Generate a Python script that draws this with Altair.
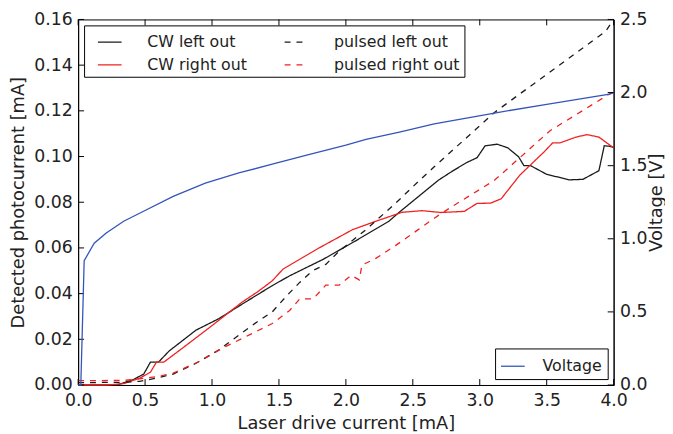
import altair as alt
import pandas as pd

# ---- data ----
cw_left_x = [0, 0.29, 0.41, 0.49, 0.54, 0.60, 0.68, 0.88, 1.05, 1.25, 1.45, 1.58, 1.83, 2.07, 2.32, 2.39,
             2.69, 2.79, 2.90, 2.98, 3.04, 3.13, 3.21, 3.29, 3.33, 3.38, 3.50, 3.67, 3.77, 3.89, 3.93, 3.97, 4.0]
cw_left_y = [0, 0, 0.0023, 0.0048, 0.0100, 0.0100, 0.0149, 0.024, 0.029, 0.0363, 0.0435, 0.0478, 0.055,
             0.063, 0.0716, 0.0752, 0.0896, 0.0934, 0.0973, 0.0995, 0.1047, 0.1054, 0.1038, 0.0999, 0.0960,
             0.0960, 0.0922, 0.0898, 0.0900, 0.0938, 0.1047, 0.1045, 0.1040]

cw_right_x = [0, 0.22, 0.34, 0.46, 0.54, 0.585, 0.64, 0.81, 1.0, 1.225, 1.336, 1.45, 1.53, 1.80, 2.05, 2.22,
              2.42, 2.57, 2.71, 2.885, 2.98, 3.08, 3.16, 3.30, 3.48, 3.545, 3.60, 3.72, 3.80, 3.89, 3.99, 4.0]
cw_right_y = [0, 0, 0.0006, 0.003, 0.0056, 0.010, 0.010, 0.0175, 0.026, 0.0363, 0.0406, 0.0456, 0.0507,
              0.060, 0.068, 0.0716, 0.0756, 0.0763, 0.0755, 0.0760, 0.0795, 0.0796, 0.0815, 0.0919, 0.102,
              0.106, 0.106, 0.1085, 0.1096, 0.1085, 0.1042, 0.104]

pulsed_left_x = [0, 0.34, 0.46, 0.585, 0.71, 0.88, 1.05, 1.25, 1.336, 1.45, 1.557, 1.655, 1.75, 1.85, 1.95,
                 2.15, 2.37, 2.54, 2.66, 3.11, 3.94, 4.0]
pulsed_left_y = [0.001, 0.0012, 0.0016, 0.003, 0.0048, 0.0095, 0.0153, 0.024, 0.0276, 0.032, 0.039, 0.0449,
                 0.050, 0.0528, 0.0586, 0.068, 0.0795, 0.089, 0.0955, 0.1193, 0.1548, 0.16]

pulsed_right_x = [0, 0.34, 0.46, 0.585, 0.71, 0.905, 1.10, 1.275, 1.45, 1.58, 1.655, 1.755, 1.85, 1.95, 2.04,
                  2.10, 2.12, 2.22, 2.37, 2.54, 2.66, 2.79, 3.11, 3.525, 3.97, 4.0]
pulsed_right_y = [0.0019, 0.002, 0.0027, 0.0036, 0.0052, 0.0103, 0.0168, 0.0218, 0.0269, 0.0326, 0.0377,
                  0.0377, 0.0437, 0.0437, 0.048, 0.046, 0.0525, 0.0553, 0.061, 0.068, 0.073, 0.078,
                  0.0896, 0.1113, 0.1274, 0.128]

volt_x = [0, 0.02, 0.045, 0.12, 0.21, 0.34, 0.47, 0.71, 0.95, 1.2, 1.45, 1.7, 2.0, 2.15, 2.4, 2.66, 3.11,
          3.5, 3.97, 4.0]
volt_y = [0, 0, 0.85, 0.97, 1.04, 1.12, 1.18, 1.29, 1.38, 1.45, 1.51, 1.57, 1.64, 1.68, 1.73, 1.786, 1.86,
          1.92, 1.99, 2.0]

series_order = ["CW left out", "CW right out", "pulsed left out", "pulsed right out"]
series_colors = ["#1a1a1a", "#ee2222", "#1a1a1a", "#ee2222"]
series_dashes = [[1, 0], [1, 0], [6, 6], [6, 6]]

x_ticks = [0, 0.5, 1.0, 1.5, 2.0, 2.5, 3.0, 3.5, 4.0]
ma_ticks = [0, 0.02, 0.04, 0.06, 0.08, 0.10, 0.12, 0.14, 0.16]
v_ticks = [0, 0.5, 1.0, 1.5, 2.0, 2.5]

W, H = 542, 370
FONT = "DejaVu Sans"
TXT = "#222222"
TL = 6

rows = []
for name, xs, ys in [("CW left out", cw_left_x, cw_left_y),
                     ("CW right out", cw_right_x, cw_right_y),
                     ("pulsed left out", pulsed_left_x, pulsed_left_y),
                     ("pulsed right out", pulsed_right_x, pulsed_right_y)]:
    for xv, yv in zip(xs, ys):
        rows.append({"x": xv, "mA": yv, "series": name})
df = pd.DataFrame(rows)
dv = pd.DataFrame({"x": volt_x, "V": volt_y, "name": "Voltage"})

xscale = alt.Scale(domain=[0, 4], nice=False, zero=False)
xaxis = alt.Axis(values=x_ticks, format=".1f", title="Laser drive current [mA]", grid=False)
yl_scale = alt.Scale(domain=[0, 0.16], nice=False)
yr_scale = alt.Scale(domain=[0, 2.5], nice=False)

leg = alt.Legend(title=None, orient="top-left", columns=2, values=series_order,
                 symbolType="stroke", symbolSize=576, symbolOffset=9,
                 symbolStrokeWidth=1.3, labelFontSize=16, labelFont=FONT, labelColor=TXT,
                 columnPadding=28, rowPadding=2, labelOffset=25, padding=4,
                 strokeColor="black", fillColor="white", offset=6, cornerRadius=0)

lines = alt.Chart(df).mark_line(strokeWidth=1.3).encode(
    x=alt.X("x:Q", scale=xscale, axis=xaxis),
    y=alt.Y("mA:Q", scale=yl_scale,
            axis=alt.Axis(values=ma_ticks, format=".2f", title="Detected photocurrent [mA]", grid=False,
                          titlePadding=6)),
    color=alt.Color("series:N", scale=alt.Scale(domain=series_order, range=series_colors), legend=leg),
    strokeDash=alt.StrokeDash("series:N", scale=alt.Scale(domain=series_order, range=series_dashes),
                              legend=leg),
    detail="series:N",
)

xt = pd.DataFrame({"x": x_ticks})
bottom_ticks = alt.Chart(xt).mark_rule(color="black", strokeWidth=1).encode(
    x=alt.X("x:Q", scale=xscale), y=alt.value(H - TL), y2=alt.value(H))
top_ticks = alt.Chart(xt).mark_rule(color="black", strokeWidth=1).encode(
    x=alt.X("x:Q", scale=xscale), y=alt.value(0), y2=alt.value(TL))
lt = pd.DataFrame({"mA": ma_ticks})
left_ticks = alt.Chart(lt).mark_rule(color="black", strokeWidth=1).encode(
    y=alt.Y("mA:Q", scale=yl_scale), x=alt.value(0), x2=alt.value(TL))

left = alt.layer(lines, bottom_ticks, top_ticks, left_ticks)

volt = alt.Chart(dv).mark_line(strokeWidth=1.3).encode(
    x=alt.X("x:Q", scale=xscale),
    y=alt.Y("V:Q", scale=yr_scale,
            axis=alt.Axis(orient="right", values=v_ticks, format=".1f", title="Voltage [V]", grid=False,
                          titleAngle=270, titleBaseline="top", titlePadding=1)),
    color=alt.Color("name:N", scale=alt.Scale(domain=["Voltage"], range=["#3355bb"]),
                    legend=alt.Legend(title=None, orient="bottom-right", symbolType="stroke",
                                      symbolSize=576, symbolStrokeWidth=1.3, labelFontSize=16,
                                      labelFont=FONT, labelColor=TXT, labelOffset=17, padding=5,
                                      strokeColor="black", fillColor="white", offset=6,
                                      cornerRadius=0)),
)
rt = pd.DataFrame({"V": v_ticks})
right_ticks = alt.Chart(rt).mark_rule(color="black", strokeWidth=1).encode(
    y=alt.Y("V:Q", scale=yr_scale), x=alt.value(W - TL), x2=alt.value(W))

right = alt.layer(volt, right_ticks)

chart = alt.layer(left, right).resolve_scale(
    y="independent", color="independent", strokeDash="independent"
).resolve_legend(color="independent", strokeDash="independent").properties(
    width=W, height=H,
    autosize=alt.AutoSizeParams(type="none"),
    padding={"left": 71, "top": 9, "right": 52, "bottom": 47},
).configure_view(
    stroke="black", strokeWidth=1
).configure_axis(
    labelFont=FONT, labelFontSize=17.5, labelColor=TXT, titleFont=FONT, titleFontSize=18,
    titleColor=TXT, titleFontWeight="normal", tickSize=0, labelPadding=6,
    domainColor="black", domainWidth=1, labelFlush=False,
).configure_axisX(titlePadding=6, labelPadding=7)

chart.save("out.html", embed_options={"renderer": "svg", "actions": False})
